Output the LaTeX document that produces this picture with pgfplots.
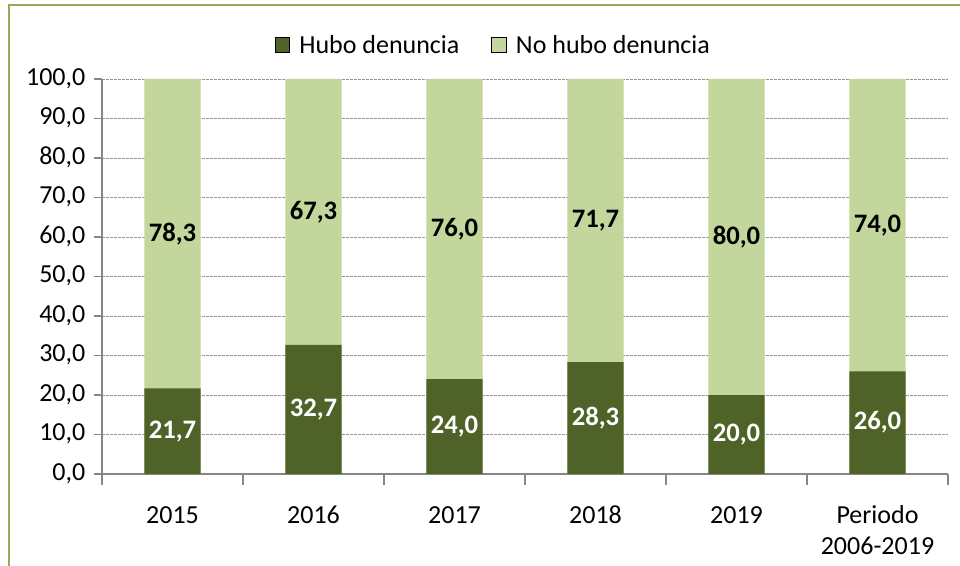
\documentclass[border=0pt]{standalone}
\usepackage{fontspec}
\setmainfont{Carlito}
\usepackage{pgfplots}
\pgfplotsset{compat=1.18}
\usepackage{pgfplotstable}
\definecolor{darkg}{RGB}{79,98,40}
\definecolor{lightg}{RGB}{195,214,155}
\definecolor{framec}{RGB}{146,172,90}
\definecolor{axgray}{RGB}{134,134,134}
\definecolor{gridgray}{RGB}{150,150,150}

\pgfplotstableread{
x tot dark dmid dlab lmid llab
0 100 21.7 10.85 21,7 60.85 78,3
1 100 32.7 16.35 32,7 66.35 67,3
2 100 24.0 12.00 24,0 62.00 76,0
3 100 28.3 14.15 28,3 64.15 71,7
4 100 20.0 10.00 20,0 60.00 80,0
5 100 26.0 13.00 26,0 63.00 74,0
}\datatab

\begin{document}
\begin{tikzpicture}[font=\fontsize{19.5}{23.4}\selectfont]
\useasboundingbox (0,0) rectangle (720pt,423.75pt);
\draw[framec, line width=1.2pt] (6.75pt,420pt) rectangle (740pt,-20pt);
\begin{axis}[
  at={(76.5pt,68.25pt)}, anchor=south west,
  scale only axis, width=634.5pt, height=296.25pt,
  xmin=-0.5, xmax=5.5, ymin=0, ymax=100,
  axis x line*=bottom, axis y line*=left,
  axis line style={-, draw=axgray, line width=0.8pt},
  ytick={0,10,...,100},
  xtick={0,...,5},
  minor xtick={-0.5,0.5,...,5.5},
  xticklabels={2015,2016,2017,2018,2019,{Periodo\\2006-2019}},
  xticklabel style={align=center, yshift=-11pt},
  typeset ticklabels with strut,
  major x tick style={draw=none},
  tick style={draw=axgray, line width=0.8pt},
  tick align=outside,
  major tick length=6pt, minor tick length=8pt,
  ymajorgrids,
  major grid style={draw=gridgray, dash pattern=on 2pt off 1pt, line width=0.6pt},
  /pgf/number format/assume math mode=true,
  yticklabel style={/pgf/number format/fixed, /pgf/number format/fixed zerofill, /pgf/number format/precision=1, /pgf/number format/use comma, xshift=-3pt},
  legend columns=2,
  legend style={at={(0.463,1.086)}, anchor=center, draw=none, fill=none,
    /tikz/every even column/.append style={column sep=22pt}},
  legend image code/.code={\fill[#1] (0pt,-5.5pt) rectangle (11pt,5.5pt); \path (16pt,0pt);},
  clip=false,
]
\addlegendimage{fill=darkg}
\addlegendentry{Hubo denuncia}
\addlegendimage{fill=lightg}
\addlegendentry{No hubo denuncia}
\addplot[ybar, bar width=0.4, bar shift=0pt, fill=lightg, draw=none, forget plot] table[x=x, y=tot] {\datatab};
\addplot[ybar, bar width=0.4, bar shift=0pt, fill=darkg, draw=none, forget plot] table[x=x, y=dark] {\datatab};
\addplot[draw=none, mark=none, forget plot, nodes near coords, point meta=explicit symbolic,
  nodes near coords style={anchor=center, text=white, font=\fontsize{20}{24}\selectfont\bfseries}]
  table[x=x, y=dmid, meta=dlab] {\datatab};
\addplot[draw=none, mark=none, forget plot, nodes near coords, point meta=explicit symbolic,
  nodes near coords style={anchor=center, text=black, font=\fontsize{20}{24}\selectfont\bfseries}]
  table[x=x, y=lmid, meta=llab] {\datatab};
\end{axis}
\end{tikzpicture}
\end{document}
